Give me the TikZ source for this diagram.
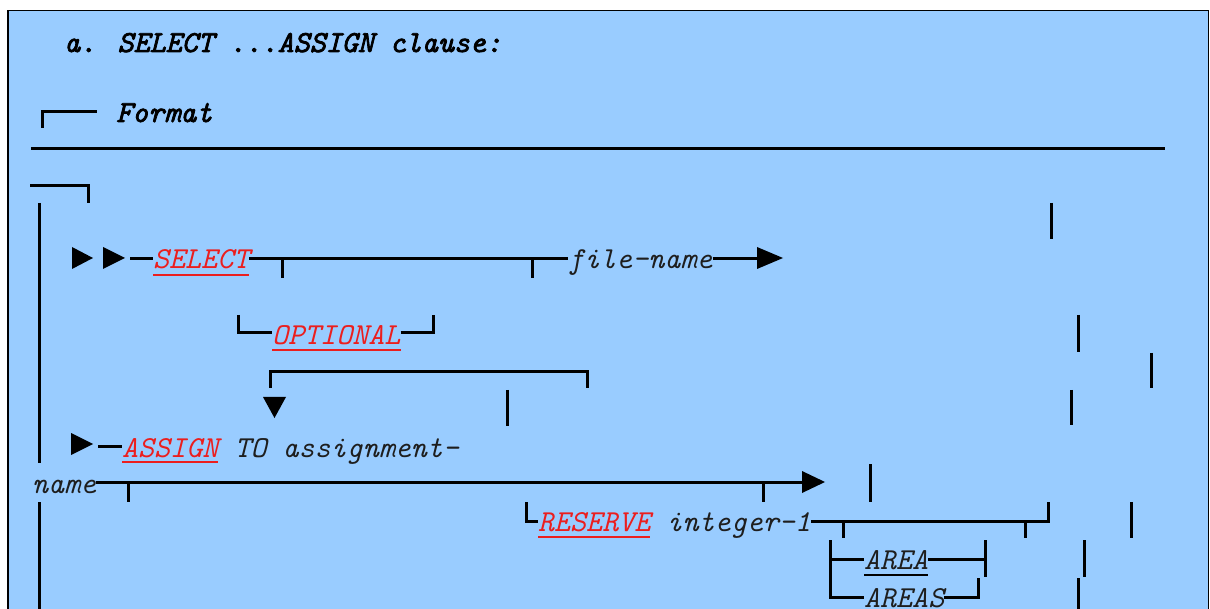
\documentclass[tikz,border=0pt]{standalone}
\usepackage{fontspec}
\newfontfamily\headfont{Latin Modern Mono}[FakeBold=2.5]
\usepackage{tikz}
\usetikzlibrary{positioning}
\definecolor{panelblue}{RGB}{153,204,255}
\definecolor{kwred}{RGB}{235,30,30}
\definecolor{inkgray}{RGB}{30,30,30}
\tikzstyle{code}=[inner sep=0pt, anchor=base west, text=inkgray,
                  font=\ttfamily\fontsize{30.5}{34}\selectfont\itshape]
\tikzstyle{kw}=[code, text=kwred]
\tikzstyle{head}=[code, text=black, font=\headfont\fontsize{30.5}{34}\selectfont\itshape]

\begin{document}
\begin{tikzpicture}[x=1pt, y=-1pt,
rail/.style={line width=3pt},
uline/.style={line width=1.3pt},
tri/.style={fill=black},
]
\useasboundingbox (0,0) rectangle (1210,609);
\clip (0,0) rectangle (1210,609);

%Panel
\fill[panelblue] (8,10.5) rectangle (1208.5,640);
\draw[line width=1.5pt] (8,640) -- (8,10.5) -- (1208.5,10.5) -- (1208.5,640);

%Heading
\node[head] (title) at (64,52) {a. SELECT ...ASSIGN clause:};
\node[head] (fmt) at (116,122) {Format};
\draw[rail] (42,128) -- (42,112) -- (97,112);
\draw[rail] (31,149) -- (1165,149);

%Frame pieces
\draw[rail] (30,186) -- (88,186) -- (88,203);
\draw[rail] (39,203) -- (39,463);
\draw[rail] (39,502) -- (39,640);
\draw[rail] (1051,203) -- (1051,239);
\draw[rail] (1078,315) -- (1078,352);
\draw[rail] (1151,353) -- (1151,388);
\draw[rail] (507,390) -- (507,426);
\draw[rail] (1071,390) -- (1071,425);
\draw[rail] (870,464) -- (870,502);
\draw[rail] (1131,502) -- (1131,538);
\draw[rail] (1084,540) -- (1084,577);
\draw[rail] (1078,578) -- (1078,640);

%SELECT line
\fill[tri] (72,247) -- (93,258) -- (72,269) -- cycle;
\fill[tri] (103,247) -- (125,258) -- (103,269) -- cycle;
\node[kw] (sel) at (153,269) {SELECT};
\node[code] (fname) at (568,269) {file-name};
\coordinate (selend) at (757,258.5);
\draw[rail] (130,258.5) -- ([yshift=10.5pt]sel.base west);
\draw[uline, kwred] ([yshift=-6pt]sel.base west) -- ([yshift=-6pt]sel.base east);
\draw[rail] ([yshift=10.5pt]sel.base east) -- ([yshift=10.5pt]fname.base west);
\draw[rail] (282,258.5) -- (282,278);
\draw[rail] (532,258.5) -- (532,278);
\draw[rail] ([yshift=10.5pt]fname.base east) -- (selend);
\fill[tri] (757,247) -- (783,258) -- (757,269) -- cycle;

%OPTIONAL branch
\node[kw] (opt) at (272,345) {OPTIONAL};
\draw[uline, kwred] ([yshift=-5pt]opt.base west) -- ([yshift=-5pt]opt.base east);
\draw[rail] (238,315) -- (238,333) -- ([yshift=12pt]opt.base west);
\draw[rail] ([yshift=12pt]opt.base east) -- (433,333) -- (433,315);

%Loop back
\draw[rail] (270,388) -- (270,372) -- (587,372) -- (587,388);
\fill[tri] (263,397) -- (286,397) -- (274.5,418) -- cycle;

%ASSIGN line
\fill[tri] (71,433) -- (93,444) -- (71,455) -- cycle;
\node[kw] (asg) at (122,457) {ASSIGN};
\node[code] (asgto) at (asg.base east) {\ TO assignment-};
\draw[rail] (98,446) -- ([yshift=11pt]asg.base west);
\draw[uline, kwred] ([yshift=-5pt]asg.base west) -- ([yshift=-5pt]asg.base east);

\node[code] (aname) at (32,493) {name};
\coordinate (asgend) at (802,482);
\draw[rail] ([yshift=11pt]aname.base east) -- (asgend);
\draw[rail] (128,482) -- (128,502);
\draw[rail] (763,482) -- (763,502);
\fill[tri] (802,471) -- (825,482) -- (802,493) -- cycle;

%RESERVE branch
\node[kw] (res) at (538,531) {RESERVE};
\node[code] (int) at (res.base east) {\ integer-1};
\draw[uline, kwred] ([yshift=-6pt]res.base west) -- ([yshift=-6pt]res.base east);
\draw[rail] (526,502) -- (526,521) -- ([yshift=10pt]res.base west);
\draw[rail] ([yshift=10pt]int.base east) -- (1048,521) -- (1048,502);
\draw[rail] (843,521) -- (843,538);
\draw[rail] (1025,521) -- (1025,538);

%AREA / AREAS
\node[code] (area) at (864,569) {AREA};
\node[code] (areas) at (864,607) {AREAS};
\draw[uline] ([yshift=-6pt]area.base west) -- ([yshift=-6pt]area.base east);
\draw[uline] ([yshift=-6pt]areas.base west) -- ([yshift=-6pt]areas.base east);
\draw[rail] (830,540) -- (830,597) -- ([yshift=10pt]areas.base west);
\draw[rail] (830,559) -- ([yshift=10pt]area.base west);
\draw[rail] ([yshift=10pt]area.base east) -- (985,559);
\draw[rail] (985,540) -- (985,577);
\draw[rail] ([yshift=10pt]areas.base east) -- (978,597) -- (978,578);

\end{tikzpicture}
\end{document}
